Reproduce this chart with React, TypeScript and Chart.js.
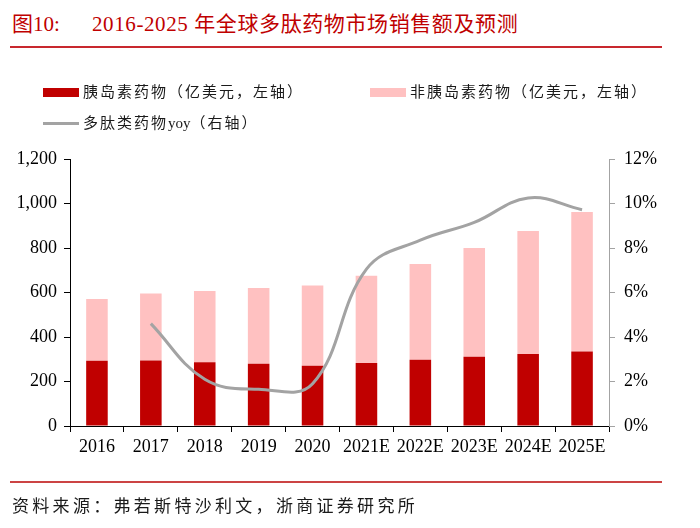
import React, { useEffect, useRef } from "react";
import { Chart, registerables } from "chart.js";

Chart.register(...registerables);

const categories = ["2016", "2017", "2018", "2019", "2020", "2021E", "2022E", "2023E", "2024E", "2025E"];
const insulinSales = [293, 294, 287, 280, 271, 283, 298, 311, 324, 335];
const nonInsulinSales = [278, 301, 320, 340, 361, 392, 430, 489, 552, 627];
const peptideYoy = [null, 4.6, 2.1, 1.65, 1.9, 7.05, 8.35, 9.15, 10.25, 9.72];
const leftTicks = [0, 200, 400, 600, 800, 1000, 1200];

const SERIF = '"Liberation Serif", "Noto Sans CJK SC", serif';
const DARK_RED = "#C00000";
const PINK = "#FFC1C1";
const GRAY = "#A3A3A3";

export default function App() {
  const ref = useRef<HTMLCanvasElement | null>(null);

  useEffect(() => {
    if (!ref.current) return;
    const chart = new Chart(ref.current, {
      type: "bar",
      data: {
        labels: categories,
        datasets: [
          {
            type: "line",
            label: "多肽类药物yoy（右轴）",
            data: peptideYoy,
            yAxisID: "y1",
            borderColor: GRAY,
            borderWidth: 3,
            pointRadius: 0,
            tension: 0.4,
            order: 0,
          } as any,
          {
            label: "胰岛素药物（亿美元，左轴）",
            data: insulinSales,
            backgroundColor: DARK_RED,
            yAxisID: "y",
            stack: "s",
            barPercentage: 0.4,
            categoryPercentage: 1,
            order: 1,
          },
          {
            label: "非胰岛素药物（亿美元，左轴）",
            data: nonInsulinSales,
            backgroundColor: PINK,
            yAxisID: "y",
            stack: "s",
            barPercentage: 0.4,
            categoryPercentage: 1,
            order: 1,
          },
        ],
      },
      options: {
        responsive: false,
        animation: false,
        devicePixelRatio: 1,
        layout: { padding: { top: 159, left: 0, right: 0, bottom: 0 } },
        plugins: { legend: { display: false }, tooltip: { enabled: false } },
        scales: {
          x: {
            stacked: true,
            grid: { drawOnChartArea: false, drawTicks: true, tickLength: 6, color: "#000", offset: true },
            border: { color: "#000", width: 1 },
            ticks: { font: { family: SERIF, size: 18 }, color: "#000", padding: 4, maxRotation: 0, autoSkip: false },
            afterFit: (s: any) => { s.height = 102; },
          },
          y: {
            stacked: true,
            position: "left",
            min: 0,
            max: 1200,
            afterBuildTicks: (s: any) => { s.ticks = leftTicks.map((v) => ({ value: v })); },
            grid: { drawOnChartArea: false, drawTicks: true, tickLength: 6, color: "#000" },
            border: { color: "#000", width: 1 },
            ticks: {
              font: { family: SERIF, size: 18 },
              color: "#000",
              padding: 7,
              callback: (v: any) => Number(v).toLocaleString("en-US"),
            },
            afterFit: (s: any) => { s.width = 70; },
          },
          y1: {
            position: "right",
            min: 0,
            max: 12,
            grid: { drawOnChartArea: false, drawTicks: true, tickLength: 6, color: GRAY },
            border: { color: GRAY, width: 1 },
            ticks: {
              stepSize: 2,
              font: { family: SERIF, size: 18 },
              color: "#000",
              padding: 9,
              callback: (v: any) => `${v}%`,
            },
            afterFit: (s: any) => { s.width = 91; },
          },
        },
      },
    });
    return () => chart.destroy();
  }, []);

  const legendText: React.CSSProperties = {
    position: "absolute",
    fontFamily: SERIF,
    fontSize: 15,
    letterSpacing: 2,
    color: "#1a1a1a",
    lineHeight: "18px",
    whiteSpace: "nowrap",
  };

  return (
    <div style={{ position: "fixed", left: 0, top: 0, width: 700, height: 528, background: "#fff", overflow: "hidden" }}>
      <div style={{ position: "absolute", left: 12, top: 10, fontFamily: SERIF, fontSize: 21, color: DARK_RED, lineHeight: "28px", whiteSpace: "nowrap" }}>图10:</div>
      <div style={{ position: "absolute", left: 92, top: 10, fontFamily: SERIF, fontSize: 21, color: DARK_RED, lineHeight: "28px", whiteSpace: "nowrap", letterSpacing: 0.6 }}>2016-2025 年全球多肽药物市场销售额及预测</div>
      <div style={{ position: "absolute", left: 10, top: 46, width: 652, height: 2, background: "#C8282E" }} />

      <canvas ref={ref} width={700} height={528} style={{ position: "absolute", left: 0, top: 0, width: 700, height: 528 }} />

      <div style={{ position: "absolute", left: 43, top: 88, width: 36, height: 9, background: DARK_RED }} />
      <div style={{ ...legendText, left: 83, top: 83 }}>胰岛素药物（亿美元，左轴）</div>
      <div style={{ position: "absolute", left: 370, top: 88, width: 36, height: 9, background: PINK }} />
      <div style={{ ...legendText, left: 410, top: 83 }}>非胰岛素药物（亿美元，左轴）</div>
      <div style={{ position: "absolute", left: 43, top: 122, width: 36, height: 3, background: GRAY }} />
      <div style={{ ...legendText, left: 83, top: 114 }}>
        <span>多肽类药物</span>
        <span style={{ letterSpacing: 0 }}>yoy</span>
        <span>（右轴）</span>
      </div>

      <div style={{ position: "absolute", left: 10, top: 481, width: 652, height: 2, background: "#CC4444" }} />
      <div style={{ position: "absolute", left: 12, top: 495, fontFamily: SERIF, fontSize: 17, letterSpacing: 3.3, color: "#1a1a1a", lineHeight: "24px", whiteSpace: "nowrap" }}>资料来源：弗若斯特沙利文，浙商证券研究所</div>
    </div>
  );
}
